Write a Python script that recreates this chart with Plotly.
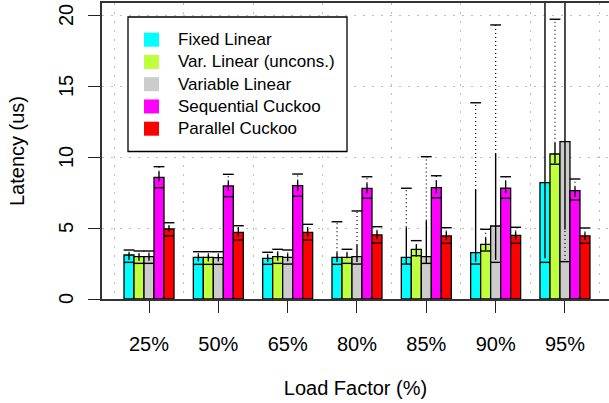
import plotly.graph_objects as go

# ---------------- data ----------------
categories = ["25%", "50%", "65%", "80%", "85%", "90%", "95%"]
series_names = ["Fixed Linear", "Var. Linear (uncons.)", "Variable Linear",
                "Sequential Cuckoo", "Parallel Cuckoo"]
series_colors = ["#00FFFF", "#C0FF3E", "#CCCCCC", "#FF00FF", "#FF0000"]

# mean latency (bar height)
fixed_mean = [3.10, 2.93, 2.86, 2.93, 2.93, 3.26, 8.19]
varun_mean = [2.98, 2.93, 2.98, 2.93, 3.50, 3.85, 10.21]
varlin_mean = [2.98, 2.91, 2.93, 2.98, 2.98, 5.14, 11.08]
seq_mean = [8.57, 7.96, 7.98, 7.79, 7.84, 7.80, 7.63]
par_mean = [4.93, 4.69, 4.69, 4.51, 4.44, 4.48, 4.44]

# median latency (line inside bar)
fixed_med = [2.58, 2.44, 2.44, 2.44, 2.46, 2.46, 2.58]
varun_med = [2.51, 2.44, 2.51, 2.51, 3.05, 3.38, 9.49]
varlin_med = [2.51, 2.44, 2.46, 2.46, 2.51, 2.58, 2.63]
seq_med = [7.84, 7.21, 7.23, 7.09, 7.13, 7.09, 6.97]
par_med = [4.44, 4.15, 4.15, 3.94, 3.92, 3.92, 3.92]

# solid whisker (low / high)
fixed_lo = [2.75, 2.65, 2.60, 2.60, 2.46, 2.63, 2.87]
fixed_hi = [3.26, 3.15, 3.10, 3.30, 5.05, 7.68, 30.0]
varun_lo = [2.70, 2.65, 2.70, 2.87, 2.98, 3.45, 9.55]
varun_hi = [3.17, 3.15, 3.30, 3.26, 3.80, 4.32, 11.00]
varlin_lo = [2.70, 2.65, 2.65, 2.60, 2.54, 2.75, 4.90]
varlin_hi = [3.20, 3.15, 3.20, 3.80, 5.52, 10.21, 30.0]
seq_lo = [8.27, 7.60, 7.60, 7.45, 7.44, 7.45, 7.20]
seq_hi = [8.97, 8.30, 8.35, 8.15, 8.31, 8.30, 7.91]
par_lo = [4.74, 4.40, 4.40, 4.20, 4.15, 4.15, 4.15]
par_hi = [5.14, 5.00, 5.00, 4.80, 4.75, 4.75, 4.69]

# dotted extension end / cap (None = not visible)
fixed_cap = [3.45, 3.33, 3.29, 5.44, 7.80, 13.82, None]
varun_cap = [3.38, 3.33, 3.50, 3.50, 4.11, 4.91, 19.70]
varlin_cap = [3.38, 3.33, 3.45, 6.20, 10.02, 19.30, 2.75]
seq_cap = [9.32, 8.78, 8.80, 8.61, 8.68, 8.61, 8.45]
par_cap = [5.37, 5.16, 5.26, 5.09, 5.02, 5.05, 5.00]

means = [fixed_mean, varun_mean, varlin_mean, seq_mean, par_mean]
meds = [fixed_med, varun_med, varlin_med, seq_med, par_med]
los = [fixed_lo, varun_lo, varlin_lo, seq_lo, par_lo]
his = [fixed_hi, varun_hi, varlin_hi, seq_hi, par_hi]
caps = [fixed_cap, varun_cap, varlin_cap, seq_cap, par_cap]

y_ticks = [0, 5, 10, 15, 20]
y_tick_labels = ["0", "5", "10", "15", "20"]

# ---------------- geometry ----------------
W, H = 609, 403
L, R, T, B = 102, 0, 3, 104
BW = 0.1442          # bar width (data units)
GROUP_START = -2.5 * BW
CAP_HALF = 0.078
X_RANGE = [-0.678, 6.635]
Y_RANGE = [0, 20.845]
FONT = "Liberation Sans, Arial, Helvetica, sans-serif"

fig = go.Figure()
xs = list(range(len(categories)))

for i, name in enumerate(series_names):
    off = GROUP_START + i * BW
    fig.add_trace(go.Bar(
        x=xs, y=means[i], width=BW, offset=off, name=name,
        marker=dict(color=series_colors[i], line=dict(color="black", width=1.3)),
        showlegend=False,
    ))

for i, name in enumerate(series_names):
    off = GROUP_START + i * BW + BW / 2
    sx, sy, dx, dy, cx, cy, mx, my = [], [], [], [], [], [], [], []
    for k in xs:
        xc = k + off
        lo, hi, cap, med = los[i][k], his[i][k], caps[i][k], meds[i][k]
        mx += [xc - BW / 2, xc + BW / 2, None]
        my += [med, med, None]
        sx += [xc, xc, None]
        sy += [lo, hi, None]
        if cap is not None:
            if cap >= hi:
                dx += [xc, xc, None]
                dy += [hi, cap, None]
                cx += [xc - CAP_HALF, xc + CAP_HALF, None]
                cy += [cap, cap, None]
            elif cap < lo:
                dx += [xc, xc, None]
                dy += [cap, lo, None]
    fig.add_trace(go.Scatter(x=mx, y=my, mode="lines", showlegend=False,
                             line=dict(color="black", width=1.4), hoverinfo="skip"))
    fig.add_trace(go.Scatter(x=dx, y=dy, mode="lines", showlegend=False,
                             line=dict(color="black", width=1.2, dash="1px,3px"), hoverinfo="skip"))
    fig.add_trace(go.Scatter(x=sx, y=sy, mode="lines", showlegend=False,
                             line=dict(color="black", width=1.4), hoverinfo="skip"))
    fig.add_trace(go.Scatter(x=cx, y=cy, mode="lines", showlegend=False,
                             line=dict(color="black", width=1.4), hoverinfo="skip"))

# ---------------- manual legend ----------------
def px_x(p):
    return (p - L) / (W - L - R)

def px_y(p):
    return (H - B - p) / (H - B - T)

shapes = [dict(type="rect", xref="paper", yref="paper",
               x0=px_x(128), x1=px_x(347), y0=px_y(151.5), y1=px_y(17),
               fillcolor="white", line=dict(color="black", width=1.3), layer="above")]
annotations = []
row0, step = 39.7, 22.25
for i, name in enumerate(series_names):
    cyp = row0 + i * step
    shapes.append(dict(type="rect", xref="paper", yref="paper",
                       x0=px_x(144), x1=px_x(159), y0=px_y(cyp + 7), y1=px_y(cyp - 7),
                       fillcolor=series_colors[i], line=dict(width=0), layer="above"))
    annotations.append(dict(xref="paper", yref="paper", x=px_x(176), y=px_y(cyp),
                            xanchor="left", yanchor="middle", text=name, showarrow=False,
                            font=dict(family=FONT, size=17, color="black")))

# rotated y tick labels (R style, las=0)
for v, t in zip(y_ticks, y_tick_labels):
    annotations.append(dict(xref="paper", yref="y", x=px_x(66), y=v,
                            xanchor="center", yanchor="middle", text=t, textangle=-90,
                            showarrow=False, font=dict(family=FONT, size=20, color="black")))

grid_color = "#BDBDBD"
fig.update_layout(
    width=W, height=H,
    margin=dict(l=L, r=R, t=T, b=B, autoexpand=False),
    paper_bgcolor="white", plot_bgcolor="white",
    barmode="overlay",
    font=dict(family=FONT, size=20, color="black"),
    shapes=shapes, annotations=annotations,
    showlegend=False,
    xaxis=dict(
        range=X_RANGE, tickmode="array", tickvals=xs, ticktext=categories,
        ticks="outside", ticklen=12, tickwidth=1.3, tickcolor="#222",
        showline=True, linecolor="#333", linewidth=1.6, mirror=True,
        showgrid=False, zeroline=False, ticklabelstandoff=14, automargin=False,
        tickfont=dict(family=FONT, size=20, color="black"),
        title=dict(text="Load Factor (%)", standoff=27,
                   font=dict(family=FONT, size=20, color="black")),
        minor=dict(tickmode="array", tickvals=[k - 0.5 for k in range(8)],
                   showgrid=True, gridcolor=grid_color, griddash="2px,7px",
                   gridwidth=1, ticklen=0),
    ),
    yaxis=dict(
        range=Y_RANGE, tickmode="array", tickvals=y_ticks,
        ticks="outside", ticklen=12, tickwidth=1.3, tickcolor="#222",
        showticklabels=False, automargin=False,
        showline=True, linecolor="#333", linewidth=1.6,
        showgrid=True, gridcolor=grid_color, griddash="2px,7px", gridwidth=1,
        zeroline=False,
        title=dict(text="Latency (us)", standoff=58,
                   font=dict(family=FONT, size=20, color="black")),
    ),
)

fig.write_html("out.html", config={"displayModeBar": False},
               post_script="document.body.style.margin='0';document.body.style.overflow='hidden';")
